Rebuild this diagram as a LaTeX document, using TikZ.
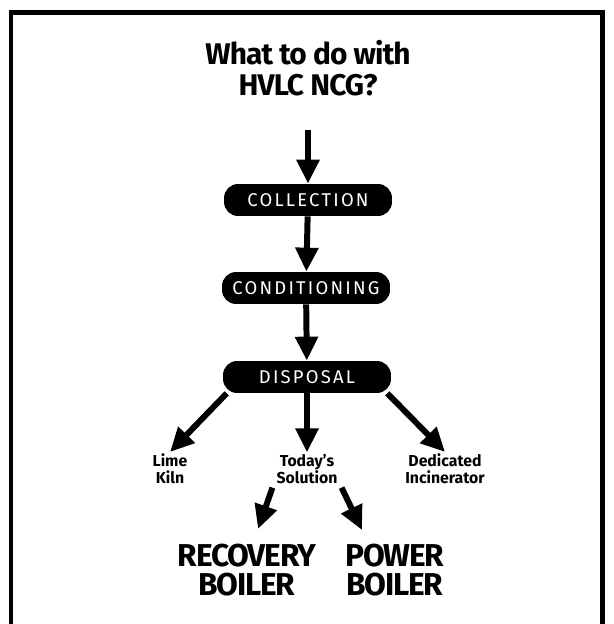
\documentclass[tikz,border=0pt]{standalone}
\usepackage{fontspec}
\setmainfont{Fira Sans}
\usetikzlibrary{arrows.meta}
\begin{document}
\begin{tikzpicture}[x=0.02cm, y=-0.02cm,
  stage/.style={fill=black, rounded corners=8pt, minimum width=3.36cm, minimum height=0.64cm,
    text=white, font=\fontsize{10.5}{12}\selectfont\addfontfeatures{LetterSpace=12}},
  flow/.style={line width=3.4pt, -{Triangle[length=0.48cm, width=0.44cm]}},
  option/.style={font=\fontsize{9}{9.5}\selectfont\bfseries, align=center, inner sep=1pt},
  boiler/.style={font=\fontsize{18}{17}\selectfont\bfseries\addfontfeatures{LetterSpace=-4}, align=center, inner sep=1pt}]
\useasboundingbox (0,0) rectangle (613,624);
\clip (0,0) rectangle (613,624);
% frame
\draw[line width=0.1cm] (11,700) -- (11,12.5) -- (602,12.5) -- (602,700);
% title
\node (title) at (308,68) [font=\fontsize{17}{18}\selectfont\bfseries\addfontfeatures{LetterSpace=-3}, align=center] {What to do with\\HVLC NCG?};
\coordinate (start) at (308,130);
% stages
\node [stage] (collection) at (308,200) {COLLECTION};
\node [stage] (conditioning) at (306,288) {CONDITIONING};
\node [stage] (disposal) at (307,377) {DISPOSAL};
% options
\node [option] (kiln) at (170,469) {Lime\\Kiln};
\node [option] (today) at (307,469) {Today's\\Solution};
\node [option] (incin) at (445,469) {Dedicated\\Incinerator};
\node [boiler] (recovery) at (247,570) {RECOVERY\\BOILER};
\node [boiler] (power) at (395,570) {POWER\\BOILER};
% arrows
\draw [flow] (start) -- (collection.north);
\draw [flow] (collection) -- (conditioning);
\draw [flow] (conditioning) -- (disposal);
\draw [flow] (disposal.south west) ++(4,0) -- (kiln.north);
\draw [flow] (disposal) -- (today);
\draw [flow] (disposal.south east) ++(-4,0) -- (incin.north);
\draw [flow] (today.south west) ++(-2,2) -- (258,529);
\draw [flow] (today.south east) ++(2,2) -- (362,530);
\end{tikzpicture}
\end{document}
